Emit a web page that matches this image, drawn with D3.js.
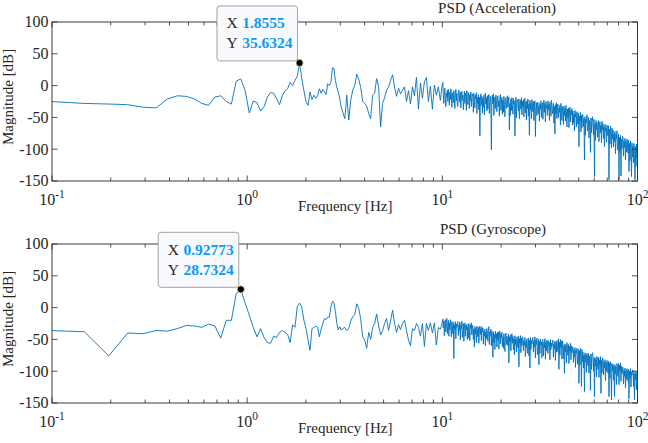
<!DOCTYPE html>
<html><head><meta charset="utf-8">
<script src="https://cdn.jsdelivr.net/npm/d3@7"></script>
<style>
body{margin:0;background:#fff}
svg{display:block}
text{font-family:"Liberation Serif","Times New Roman",serif;fill:#262626}
</style>
</head><body>
<svg id="c" width="648" height="443"></svg>
<script>
// ---------- frequency grid (FFT bins at low f, then log-spaced sampling) ----------
const df = 200 / 4096;
const lowBins = d3.range(2, 63);
const midLog = d3.range(1, 51).map(i => 0.49 + 0.0102 * i);
const highLog = d3.range(1, 391).map(i => 1 + i / 390);
const freq = [...lowBins.map(k => k * df), ...midLog.map(l => Math.pow(10, l)), ...highLog.map(l => Math.pow(10, l))];

// ---------- PSD (Acceleration) magnitudes [dB] ----------
const accLow = [-25,-28,-29,-30,-34,-35,-21,-16,-17,-21,
 -28,-31,-18,-16,-25,-29,7,10.5,-8,-43,
 -24,-27,-40,-33,-18,-11,-12,-21,-30,-16,
 -8,-5,5,0,8,15,35.6324,12,-8,-25,
 -31,-10,-22,-15,-20,-16,-5,-12,-6,-10,
 -14,3,0,5,28,27,8,-3,-10,-20,
 -33];
const accMid = [-52,-15,-54,-23,-7,0,18,10,-3,-25,
 -28,-32,-44,-52,-15,-12,11,-2,-65,-28,
 -19,-7,-2,8,17,-2,-17,-4,-13,-7,
 -2,-25,-8,-29,-2,-16,13,-37,4,-20,
 6,13,-25,-1,-37,1,-15,-2,-23,3];
const accHigh = [
 5,-14,-28,-9,-4,-21,-33,-12,-18,-7,
 -25,-6,-16,-31,-10,-22,-5,-13,-34,-19,
 -11,-27,-8,-20,-36,-15,-6,-24,-12,-30,
 -33,-13,-7,-18,-26,-10,-35,-16,-9,-23,
 -15,-38,-21,-9,-28,-12,-17,-39,-8,-25,
 -30,-11,-19,-36,-14,-24,-10,-33,-20,-13,
 -17,-42,-12,-26,-35,-15,-21,-11,-44,-19,
 -28,-14,-38,-18,-79,-22,-13,-31,-17,-43,
 -20,-34,-15,-46,-24,-12,-29,-19,-40,-16,
 -37,-21,-14,-44,-26,-17,-32,-101,-20,-15,
 -29,-13,-47,-22,-18,-36,-15,-25,-41,-19,
 -16,-33,-24,-48,-20,-14,-39,-27,-18,-45,
 -23,-42,-17,-30,-49,-22,-19,-36,-26,-16,
 -34,-24,-18,-70,-28,-47,-21,-39,-19,-31,
 -45,-20,-29,-24,-79,-35,-18,-51,-26,-22,
 -27,-40,-21,-52,-30,-23,-37,-19,-46,-25,
 -33,-22,-49,-28,-20,-43,-26,-54,-24,-36,
 -21,-48,-29,-78,-23,-38,-27,-52,-22,-32,
 -41,-25,-55,-31,-24,-80,-35,-27,-47,-30,
 -26,-44,-32,-56,-28,-37,-24,-50,-33,-27,
 -53,-30,-23,-42,-28,-57,-25,-35,-31,-47,
 -24,-38,-29,-55,-26,-33,-48,-23,-31,-44,
 -36,-28,-59,-33,-76,-30,-45,-27,-52,-34,
 -29,-50,-35,-42,-31,-62,-28,-39,-55,-33,
 -38,-61,-32,-47,-36,-56,-31,-43,-65,-37,
 -51,-35,-66,-40,-34,-57,-39,-46,-36,-62,
 -40,-58,-45,-71,-39,-49,-44,-65,-41,-53,
 -61,-43,-96,-48,-55,-42,-73,-47,-66,-45,
 -47,-64,-52,-117,-49,-78,-53,-58,-46,-71,
 -68,-50,-82,-55,-62,-105,-51,-74,-56,-49,
 -59,-77,-53,-143,-60,-86,-55,-69,-58,-81,
 -66,-55,-88,-61,-57,-74,-62,-90,-56,-70,
 -60,-83,-65,-96,-61,-72,-66,-89,-62,-77,
 -79,-63,-148,-69,-92,-64,-71,-98,-67,-84,
 -70,-96,-76,-88,-72,-107,-77,-83,-71,-101,
 -94,-76,-148,-81,-103,-78,-142,-84,-99,-80,
 -82,-111,-87,-97,-83,-117,-88,-104,-84,-93,
 -106,-86,-135,-91,-118,-87,-99,-143,-90,-112,
 -95,-121,-91,-108,-148,-96,-127,-92,-114,-99];

// ---------- PSD (Gyroscope) magnitudes [dB] ----------
const gyroLow = [-36,-38,-76,-40,-41,-36,-37,-33,-28,-29,
 -31,-26,-29,-48,-20,-20,22,28.7324,7,-12,
 -31,-46,-33,-47,-55,-56,-45,-47,-39,-36,
 -39,-42,-55,-27,-31,2,7,1,-20,-33,
 -51,-67,-33,-31,-29,-31,-46,-34,-25,-17,
 -19,-15,-15,1,10,8,-6,-25,-35,-30,
 -35];
const gyroMid = [-31,-36,-33,-21,-14,-11,6,-1,-18,-46,
 -51,-64,-39,-50,-31,-25,-10,-29,-43,-36,
 -25,-17,-36,-21,-4,-25,-39,-27,-35,-25,
 -20,-36,-51,-60,-33,-36,-25,-31,-45,-25,
 -61,-25,-36,-24,-40,-24,-59,-31,-34,-24];
const gyroHigh = [
 -18,-32,-21,-44,-26,-19,-38,-23,-17,-41,
 -27,-20,-45,-24,-35,-19,-30,-46,-22,-28,
 -41,-23,-80,-27,-34,-22,-49,-26,-31,-24,
 -22,-44,-28,-36,-23,-51,-27,-33,-21,-47,
 -39,-25,-53,-29,-24,-45,-28,-35,-26,-50,
 -30,-48,-25,-38,-52,-27,-33,-24,-43,-29,
 -28,-50,-34,-62,-30,-41,-33,-55,-29,-37,
 -46,-31,-56,-35,-29,-42,-33,-52,-30,-38,
 -32,-57,-37,-45,-34,-60,-38,-49,-33,-41,
 -53,-36,-30,-58,-39,-44,-34,-60,-37,-47,
 -78,-38,-55,-42,-66,-37,-48,-41,-62,-39,
 -51,-38,-65,-43,-37,-57,-41,-47,-39,-61,
 -46,-64,-41,-53,-69,-44,-40,-58,-45,-50,
 -60,-42,-87,-46,-54,-43,-68,-47,-41,-56,
 -45,-66,-49,-74,-44,-58,-50,-70,-46,-53,
 -63,-45,-93,-49,-56,-44,-71,-48,-60,-46,
 -48,-68,-52,-59,-47,-77,-53,-63,-49,-72,
 -61,-48,-76,-51,-95,-47,-66,-52,-57,-49,
 -47,-70,-52,-62,-46,-79,-51,-58,-48,-74,
 -65,-50,-90,-53,-72,-49,-59,-54,-79,-52,
 -50,-76,-55,-63,-49,-81,-54,-68,-51,-58,
 -72,-52,-59,-55,-82,-50,-66,-56,-61,-54,
 -51,-78,-57,-65,-53,-83,-55,-70,-52,-62,
 -69,-49,-97,-54,-75,-50,-63,-53,-81,-52,
 -56,-80,-60,-103,-57,-70,-59,-87,-55,-66,
 -75,-58,-88,-61,-68,-56,-82,-60,-71,-62,
 -62,-86,-66,-77,-63,-94,-67,-72,-64,-89,
 -81,-65,-119,-68,-90,-64,-76,-124,-66,-85,
 -70,-95,-75,-132,-71,-86,-74,-102,-72,-80,
 -91,-72,-103,-76,-84,-130,-73,-97,-77,-71,
 -76,-100,-80,-140,-78,-92,-81,-109,-77,-88,
 -97,-78,-110,-82,-89,-77,-135,-83,-103,-79,
 -81,-106,-85,-95,-82,-115,-86,-100,-83,-91,
 -103,-84,-140,-87,-111,-85,-96,-145,-88,-99,
 -89,-114,-92,-140,-90,-104,-93,-121,-88,-100,
 -108,-88,-121,-91,-99,-87,-116,-92,-104,-94,
 -94,-120,-98,-108,-95,-126,-99,-113,-96,-104,
 -116,-97,-143,-100,-111,-96,-125,-101,-106,-98,
 -99,-124,-103,-145,-100,-114,-104,-129,-101,-110];

const magAcc = [...accLow, ...accMid, ...accHigh];
const magGyro = [...gyroLow, ...gyroMid, ...gyroHigh];

// ---------- axis definitions ----------
const xDomain = [0.1, 100];
const xMajor = [0.1, 1, 10, 100];
const xExp = ["-1", "0", "1", "2"];
const yDomain = [-150, 100];
const yTicks = [-150, -100, -50, 0, 50, 100];
const titles = ["PSD (Acceleration)", "PSD (Gyroscope)"];
const tipBins = [38, 19]; // datatip FFT bins

// ---------- layout ----------
const svg = d3.select("#c");
const xL = 52, xR = 637.5;
const panels = [
  {top: 22, bot: 181, mag: magAcc, title: titles[0], titleX: 497, titleY: 13, tip: tipBins[0]},
  {top: 244, bot: 403, mag: magGyro, title: titles[1], titleX: 493, titleY: 234, tip: tipBins[1]}
];
const x = d3.scaleLog().domain(xDomain).range([xL, xR]);
const minor = [];
[0.1, 1, 10].forEach(d => { for (let m = 2; m <= 9; m++) minor.push(d * m); });
const axisCol = "#262626";

panels.forEach((p, pi) => {
  const y = d3.scaleLinear().domain(yDomain).range([p.bot, p.top]);
  const g = svg.append("g");
  const cid = "clip" + pi;
  svg.append("clipPath").attr("id", cid).append("rect")
    .attr("x", xL).attr("y", p.top).attr("width", xR - xL).attr("height", p.bot - p.top);

  // data line
  const pts = freq.map((f, i) => [f, p.mag[i]]);
  g.append("path").datum(pts)
    .attr("clip-path", `url(#${cid})`)
    .attr("fill", "none").attr("stroke", "#0072BD").attr("stroke-width", 0.9)
    .attr("stroke-linejoin", "round")
    .attr("d", d3.line().x(d => x(d[0])).y(d => y(d[1])));

  // frame
  g.append("rect").attr("x", xL).attr("y", p.top).attr("width", xR - xL).attr("height", p.bot - p.top)
    .attr("fill", "none").attr("stroke", axisCol).attr("stroke-width", 0.9);

  // x ticks (inward, top & bottom)
  const tk = g.append("g").attr("stroke", axisCol).attr("stroke-width", 0.8);
  xMajor.forEach(v => {
    tk.append("line").attr("x1", x(v)).attr("x2", x(v)).attr("y1", p.bot).attr("y2", p.bot - 5.5);
    tk.append("line").attr("x1", x(v)).attr("x2", x(v)).attr("y1", p.top).attr("y2", p.top + 5.5);
  });
  minor.forEach(v => {
    tk.append("line").attr("x1", x(v)).attr("x2", x(v)).attr("y1", p.bot).attr("y2", p.bot - 3.5);
    tk.append("line").attr("x1", x(v)).attr("x2", x(v)).attr("y1", p.top).attr("y2", p.top + 3.5);
  });
  // y ticks (inward, left & right)
  yTicks.forEach(v => {
    tk.append("line").attr("x1", xL).attr("x2", xL + 5.5).attr("y1", y(v)).attr("y2", y(v));
    tk.append("line").attr("x1", xR).attr("x2", xR - 5.5).attr("y1", y(v)).attr("y2", y(v));
    g.append("text").attr("x", 48.5).attr("y", y(v) + 5.3).attr("text-anchor", "end")
      .attr("font-size", 16).text(v);
  });
  // x tick labels 10^n
  xMajor.forEach((v, i) => {
    const t = g.append("text").attr("x", x(v)).attr("y", p.bot + 24).attr("text-anchor", "middle").attr("font-size", 16);
    t.append("tspan").text("10");
    t.append("tspan").attr("dy", -7).attr("font-size", 11.5).text(xExp[i]);
  });
  // axis labels & title
  g.append("text").attr("x", (xL + xR) / 2 + 0.5).attr("y", p.bot + 29.5).attr("text-anchor", "middle")
    .attr("font-size", 15).text("Frequency [Hz]");
  g.append("text").attr("transform", `translate(13,${(p.top + p.bot) / 2 - 4.5}) rotate(-90)`)
    .attr("text-anchor", "middle").attr("font-size", 15).text("Magnitude [dB]");
  g.append("text").attr("x", p.titleX).attr("y", p.titleY).attr("text-anchor", "middle")
    .attr("font-size", 15).text(p.title);

  // datatip
  const idx = lowBins.indexOf(p.tip);
  const fx = freq[idx], fy = p.mag[idx];
  const mx = x(fx), my = y(fy);
  const tip = svg.append("g");
  const box = tip.append("rect").attr("rx", 3).attr("fill", "#f9fafd").attr("stroke", "#a3a3a3").attr("stroke-width", 1);
  const lines = [["X", d3.format(".5g")(fx)], ["Y", d3.format(".6g")(fy)]];
  const texts = lines.map(([lab, val]) => {
    const t = tip.append("text").attr("font-size", 15.5);
    t.append("tspan").text(lab);
    t.append("tspan").attr("dx", 4.5).attr("font-weight", "bold").attr("fill", "#0b9bf5").text(val);
    return t;
  });
  const tw = d3.max(texts, t => t.node().getComputedTextLength());
  const bw = tw + 19, bh = 55;
  const bx = mx - 2 - bw, by = my - 2 - bh;
  box.attr("x", bx).attr("y", by).attr("width", bw).attr("height", bh);
  texts.forEach((t, li) => t.attr("x", bx + 9.5).attr("y", by + 22.5 + li * 20));
  tip.append("circle").attr("cx", mx).attr("cy", my).attr("r", 3.6)
    .attr("fill", "#000").attr("stroke", "#efe3a0").attr("stroke-width", 0.8);
});
</script>
</body></html>
